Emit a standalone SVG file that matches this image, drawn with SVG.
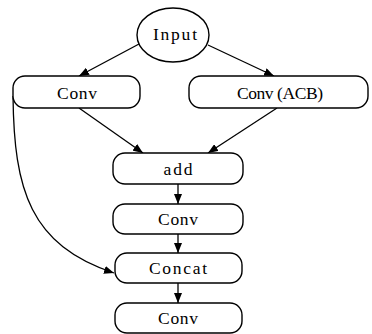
<svg xmlns="http://www.w3.org/2000/svg" width="372" height="334" viewBox="0 0 372 334">
<defs>
<marker id="ah" viewBox="0 0 10 8" refX="10" refY="4" markerWidth="10" markerHeight="8" markerUnits="userSpaceOnUse" orient="auto">
<path d="M0,0 L10,4 L0,8 Z" fill="#000"/>
</marker>
<style>
.box{fill:#fff;stroke:#000;stroke-width:1.4}
.lbl{font-family:"Liberation Serif","DejaVu Serif",serif;font-size:17.5px;fill:#000;text-anchor:middle}
.edge{fill:none;stroke:#000;stroke-width:1.3;marker-end:url(#ah)}
</style>
</defs>
<rect width="372" height="334" fill="#fff"/>
<g id="connectors">
<line class="edge" x1="139" y1="44" x2="79" y2="76"/>
<line class="edge" x1="208" y1="45" x2="274" y2="76"/>
<line class="edge" x1="79" y1="108" x2="143" y2="153"/>
<line class="edge" x1="277" y1="108" x2="208" y2="153"/>
<line class="edge" x1="178" y1="184" x2="178" y2="204"/>
<line class="edge" x1="178" y1="234" x2="178" y2="253"/>
<line class="edge" x1="178" y1="283" x2="178" y2="303"/>
<path class="edge" d="M13,96 C14,190 30,245 114,273"/>
</g>
<g id="input">
<ellipse class="box" cx="173" cy="35" rx="36" ry="27"/>
<text class="lbl" x="175" y="40" textLength="44" lengthAdjust="spacing">Input</text>
</g>
<g id="conv1">
<rect class="box" x="13" y="76" width="127" height="32" rx="12"/>
<text class="lbl" x="77" y="99" textLength="40" lengthAdjust="spacing">Conv</text>
</g>
<g id="convacb">
<rect class="box" x="189" y="76" width="179" height="32" rx="12"/>
<text class="lbl" x="280" y="99" textLength="86" lengthAdjust="spacing">Conv (ACB)</text>
</g>
<g id="add">
<rect class="box" x="113" y="153" width="130" height="31" rx="12"/>
<text class="lbl" x="178" y="175" textLength="29" lengthAdjust="spacing">add</text>
</g>
<g id="conv2">
<rect class="box" x="113" y="204" width="130" height="30" rx="12"/>
<text class="lbl" x="178" y="225" textLength="40" lengthAdjust="spacing">Conv</text>
</g>
<g id="concat">
<rect class="box" x="115" y="253" width="127" height="30" rx="12"/>
<text class="lbl" x="178" y="274" textLength="58" lengthAdjust="spacing">Concat</text>
</g>
<g id="conv3">
<rect class="box" x="115" y="303" width="127" height="30" rx="12"/>
<text class="lbl" x="178" y="324" textLength="40" lengthAdjust="spacing">Conv</text>
</g>
</svg>
